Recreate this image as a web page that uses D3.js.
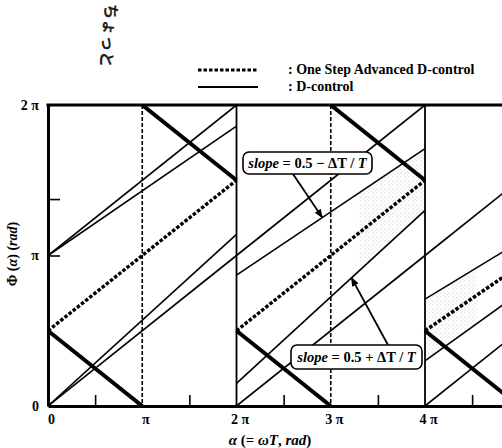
<!DOCTYPE html>
<html>
<head>
<meta charset="utf-8">
<script src="https://cdn.jsdelivr.net/npm/d3@7"></script>
<style>
  body { margin: 0; background: #fff; }
  svg { display: block; font-family: "Liberation Serif", "Times New Roman", serif; }
</style>
</head>
<body>
<div id="chart-area"></div>
<script>
// all values in units of pi
var xLabelTicks = [0, 1, 2, 3, 4];
var xMinorTicks = [0.5, 1.5, 2.5, 3.5, 4.5];
var yLabelTicks = [0, 1, 2];
var yMinorTicks = [1, 1.375];
var periodLines = [2, 4];
var halfPeriodLines = [1, 3];

// segments: [alpha0, phi0, alpha1, phi1]
var dControl = [
  [0, 0, 2, 1.0], [0, 0, 2, 1.14], [0, 1.0, 2, 2.0], [0, 1.0, 2, 1.86],
  [2, 0, 4, 1.0], [2, 0.15, 4, 1.3], [2, 0.87, 4, 1.71], [2, 1.0, 4, 2.0],
  [4, 0, 5, 0.5], [4, 0.3, 5, 0.75], [4, 0.71, 5, 1.09], [4, 1.0, 5, 1.5]
];
var boundary = [[0, 0.5, 1, 0], [1, 2, 2, 1.5], [2, 0.5, 3, 0], [3, 2, 4, 1.5], [4, 0.5, 5, 0]];
var advanced = [[0, 0.5, 2, 1.5], [2, 0.5, 4, 1.5], [4, 0.5, 5, 0.93]];

// shaded bands: [upper segment, lower segment, alpha from, alpha to]
var bands = [[6, 5, 3.3, 4], [10, 9, 4, 4.55]];

var W = 502, H = 448;
var svg = d3.select("#chart-area").append("svg")
  .attr("width", W)
  .attr("height", H);

var x = d3.scaleLinear().domain([0, 4.817]).range([48, 502]);
var y = d3.scaleLinear().domain([0, 2]).range([406, 105]);

function at(s, a) {
  return s[1] + (s[3] - s[1]) * (a - s[0]) / (s[2] - s[0]);
}

var fmt = (d) => d === 0 ? "0" : (d === 1 ? "π" : d + " π");

svg.append("clipPath").attr("id", "plot")
  .append("rect").attr("x", x(0)).attr("y", y(2)).attr("width", W - x(0)).attr("height", y(0) - y(2));

var defs = svg.append("defs");
var pat = defs.append("pattern").attr("id", "stip")
  .attr("width", 4).attr("height", 4).attr("patternUnits", "userSpaceOnUse");
pat.append("circle").attr("cx", 1).attr("cy", 1).attr("r", 0.6).attr("fill", "#999");
pat.append("circle").attr("cx", 3).attr("cy", 3).attr("r", 0.5).attr("fill", "#bbb");

defs.append("marker").attr("id", "head")
  .attr("viewBox", "0 0 10 10").attr("refX", 9).attr("refY", 5)
  .attr("markerWidth", 13).attr("markerHeight", 9).attr("markerUnits", "userSpaceOnUse")
  .attr("orient", "auto")
  .append("path").attr("d", "M0,1 L10,5 L0,9 Z").attr("fill", "#000");

var plot = svg.append("g").attr("clip-path", "url(#plot)");

// stippled bands
plot.selectAll(".band").data(bands).enter().append("path")
  .attr("class", "band")
  .attr("d", (b) => {
    var up = dControl[b[0]], lo = dControl[b[1]];
    return "M" + x(b[2]) + "," + y(at(up, b[2])) +
      "L" + x(b[3]) + "," + y(at(up, b[3])) +
      "L" + x(b[3]) + "," + y(at(lo, b[3])) +
      "L" + x(b[2]) + "," + y(at(lo, b[2])) + "Z";
  })
  .attr("fill", "url(#stip)")
  .attr("opacity", 0.7);

// verticals
plot.selectAll(".half").data(halfPeriodLines).enter().append("line")
  .attr("x1", (d) => x(d)).attr("x2", (d) => x(d))
  .attr("y1", y(2)).attr("y2", y(0))
  .attr("stroke", "#000").attr("stroke-width", 1.6).attr("stroke-dasharray", "4,2");

plot.selectAll(".period").data(periodLines).enter().append("line")
  .attr("x1", (d) => x(d)).attr("x2", (d) => x(d))
  .attr("y1", y(2)).attr("y2", y(0))
  .attr("stroke", "#000").attr("stroke-width", 1.8);

function segs(cls, data) {
  return plot.selectAll("." + cls).data(data).enter().append("line")
    .attr("class", cls)
    .attr("x1", (d) => x(d[0])).attr("y1", (d) => y(d[1]))
    .attr("x2", (d) => x(d[2])).attr("y2", (d) => y(d[3]))
    .attr("stroke", "#000");
}

segs("dc", dControl).attr("stroke-width", 1.6);
segs("adv", advanced).attr("stroke-width", 3.4).attr("stroke-dasharray", "3.5,1.8");
segs("bd", boundary).attr("stroke-width", 4);

// axes
var xAxis = svg.append("g").attr("transform", "translate(0," + y(0) + ")")
  .call(d3.axisBottom(x).tickValues(xLabelTicks).tickFormat(fmt).tickSize(0).tickPadding(8));
xAxis.select(".domain").attr("stroke-width", 3);
xAxis.selectAll("text").attr("dx", 3);

svg.append("g").attr("transform", "translate(0," + y(0) + ")")
  .call(d3.axisBottom(x).tickValues(xMinorTicks).tickFormat("").tickSizeInner(-11).tickSizeOuter(0))
  .call((g) => g.select(".domain").remove())
  .selectAll("line").attr("stroke-width", 1.6);

var yAxis = svg.append("g").attr("transform", "translate(" + x(0) + ",0)")
  .call(d3.axisLeft(y).tickValues(yLabelTicks).tickFormat(fmt).tickSize(0).tickPadding(9));
yAxis.select(".domain").attr("stroke-width", 3);

svg.append("g").attr("transform", "translate(" + x(0) + ",0)")
  .call(d3.axisLeft(y).tickValues(yMinorTicks).tickFormat("").tickSizeInner(-12).tickSizeOuter(0))
  .call((g) => g.select(".domain").remove())
  .selectAll("line").attr("stroke-width", 1.6);

svg.append("line")
  .attr("x1", x(0) - 1.5).attr("x2", W)
  .attr("y1", y(2)).attr("y2", y(2))
  .attr("stroke", "#000").attr("stroke-width", 3);

svg.selectAll(".tick text")
  .attr("font-family", "Liberation Serif")
  .attr("font-weight", "bold")
  .attr("font-size", 14)
  .attr("fill", "#000");

// axis titles
var xt = svg.append("text")
  .attr("x", 270).attr("y", 445)
  .attr("text-anchor", "middle")
  .attr("font-size", 15).attr("font-weight", "bold");
xt.append("tspan").attr("font-style", "italic").text("α");
xt.append("tspan").text(" (= ");
xt.append("tspan").attr("font-style", "italic").text("ωT");
xt.append("tspan").text(",  ");
xt.append("tspan").attr("font-style", "italic").text("rad");
xt.append("tspan").text(")");

var yt = svg.append("text")
  .attr("transform", "translate(17,254) rotate(-90)")
  .attr("text-anchor", "middle")
  .attr("font-size", 14).attr("font-weight", "bold");
yt.append("tspan").text("Φ (");
yt.append("tspan").attr("font-style", "italic").text("α");
yt.append("tspan").text(")  (");
yt.append("tspan").attr("font-style", "italic").text("rad");
yt.append("tspan").text(")");

// legend
svg.append("line").attr("x1", 198).attr("x2", 258).attr("y1", 70).attr("y2", 70)
  .attr("stroke", "#000").attr("stroke-width", 3).attr("stroke-dasharray", "3.5,2");
svg.append("line").attr("x1", 198).attr("x2", 258).attr("y1", 87).attr("y2", 87)
  .attr("stroke", "#000").attr("stroke-width", 2);
svg.append("text").attr("x", 288).attr("y", 74)
  .attr("font-size", 14).attr("font-weight", "bold")
  .text(": One Step Advanced D-control");
svg.append("text").attr("x", 288).attr("y", 91)
  .attr("font-size", 14).attr("font-weight", "bold")
  .text(": D-control");

// handwritten note
svg.append("text")
  .attr("transform", "translate(103,35) rotate(95)")
  .attr("text-anchor", "middle")
  .attr("font-family", "Noto Sans CJK JP")
  .attr("font-size", 16)
  .attr("font-weight", "bold")
  .attr("fill", "#222")
  .text("ちょっと");

// slope annotations
function note(bx, by, bw, bh, sign, seg, a, fromX, fromY) {
  svg.append("line")
    .attr("x1", fromX).attr("y1", fromY)
    .attr("x2", x(a)).attr("y2", y(at(seg, a)))
    .attr("stroke", "#000").attr("stroke-width", 1.8)
    .attr("marker-end", "url(#head)");
  svg.append("rect")
    .attr("x", bx).attr("y", by).attr("width", bw).attr("height", bh)
    .attr("rx", 6).attr("fill", "#fff")
    .attr("stroke", "#000").attr("stroke-width", 1.6);
  var t = svg.append("text")
    .attr("x", bx + bw / 2).attr("y", by + bh / 2 + 5)
    .attr("text-anchor", "middle")
    .attr("font-size", 14.5).attr("font-weight", "bold");
  t.append("tspan").attr("font-style", "italic").text("slope");
  t.append("tspan").text(" = 0.5 " + sign + " ΔT / ");
  t.append("tspan").attr("font-style", "italic").text("T");
}

note(243, 152, 129, 22, "−", dControl[6], 2.91, 293, 174);
note(291, 345, 131, 24, "+", dControl[5], 3.22, 388, 345);
</script>
</body>
</html>
